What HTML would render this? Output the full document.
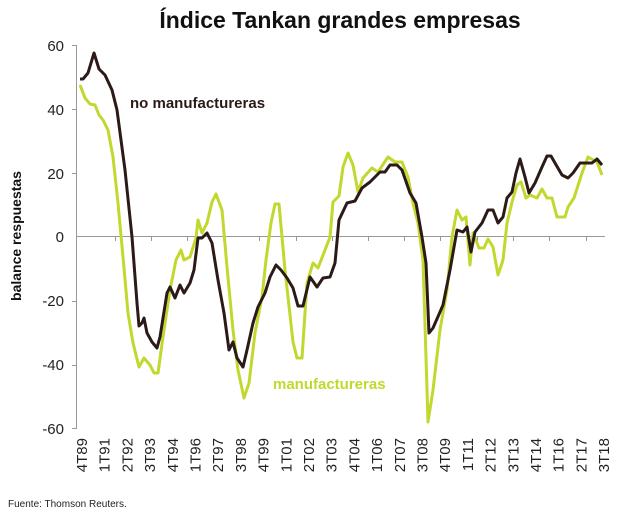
<!DOCTYPE html>
<html><head><meta charset="utf-8"><style>
body{margin:0;background:#fff;}
svg{display:block;font-family:"Liberation Sans","DejaVu Sans",sans-serif;}
</style></head><body>
<svg width="638" height="523" viewBox="0 0 638 523">
<text x="340" y="28" text-anchor="middle" font-size="23" font-weight="bold" fill="#111">Índice Tankan grandes empresas</text>
<text transform="translate(21,236) rotate(-90)" text-anchor="middle" font-size="14" font-weight="bold" fill="#111">balance respuestas</text>
<g stroke="#999" stroke-width="1" fill="none">
<line x1="76.5" y1="45" x2="76.5" y2="428"/>
<line x1="72" y1="45.5" x2="77" y2="45.5"/>
<line x1="72" y1="109.5" x2="77" y2="109.5"/>
<line x1="72" y1="173.5" x2="77" y2="173.5"/>
<line x1="72" y1="301.5" x2="77" y2="301.5"/>
<line x1="72" y1="365.5" x2="77" y2="365.5"/>
<line x1="72" y1="428.5" x2="77" y2="428.5"/>
<line x1="76" y1="236.5" x2="605" y2="236.5"/>
<path d="M115.5 236v5M151.5 236v5M187.5 236v5M223.5 236v5M259.5 236v5M296.5 236v5M332.5 236v5M368.5 236v5M404.5 236v5M440.5 236v5M477.5 236v5M513.5 236v5M549.5 236v5M586.5 236v5"/>
</g>
<g font-size="15" fill="#222" text-anchor="end">
<text x="64" y="51">60</text><text x="64" y="115">40</text><text x="64" y="179">20</text>
<text x="64" y="242">0</text><text x="64" y="306">-20</text><text x="64" y="370">-40</text><text x="64" y="434">-60</text>
</g>
<g font-size="15" fill="#222" text-anchor="end">
<text transform="translate(87,438) rotate(-90)">4T89</text>
<text transform="translate(109.7,438) rotate(-90)">1T91</text>
<text transform="translate(132.4,438) rotate(-90)">2T92</text>
<text transform="translate(155.1,438) rotate(-90)">3T93</text>
<text transform="translate(177.8,438) rotate(-90)">4T94</text>
<text transform="translate(200.5,438) rotate(-90)">1T96</text>
<text transform="translate(223.2,438) rotate(-90)">2T97</text>
<text transform="translate(245.9,438) rotate(-90)">3T98</text>
<text transform="translate(268.6,438) rotate(-90)">4T99</text>
<text transform="translate(291.3,438) rotate(-90)">1T01</text>
<text transform="translate(314,438) rotate(-90)">2T02</text>
<text transform="translate(336.7,438) rotate(-90)">3T03</text>
<text transform="translate(359.4,438) rotate(-90)">4T04</text>
<text transform="translate(382.1,438) rotate(-90)">1T06</text>
<text transform="translate(404.8,438) rotate(-90)">2T07</text>
<text transform="translate(427.5,438) rotate(-90)">3T08</text>
<text transform="translate(450.2,438) rotate(-90)">4T09</text>
<text transform="translate(472.9,438) rotate(-90)">1T11</text>
<text transform="translate(495.6,438) rotate(-90)">2T12</text>
<text transform="translate(518.3,438) rotate(-90)">3T13</text>
<text transform="translate(541,438) rotate(-90)">4T14</text>
<text transform="translate(563.7,438) rotate(-90)">1T16</text>
<text transform="translate(586.4,438) rotate(-90)">2T17</text>
<text transform="translate(609.1,438) rotate(-90)">3T18</text>
</g>
<polyline fill="none" stroke="#c2d82e" stroke-width="3" stroke-linejoin="round" points="80,85 85,98 90,104 95,105 99,115 103,120 108,130 113,157 118,203 123,257 128,313 133,343 139,367 144,358 150,365 154,373 158,373 163,337 170,290 176,260 181,250 184,260 190,257 196,238 198,220 202,233 207,223 212,202 216,194 222,210 227,267 233,330 238,370 244,398 249,383 255,333 262,297 266,260 271,223 275,204 279,204 285,270 293,342 297,358 302,358 307,283 313,263 318,268 325,250 330,237 333,202 339,196 343,167 348,153 353,165 358,192 363,178 372,168 378,172 388,157 395,162 402,162 408,177 413,203 418,223 423,260 428,422 433,390 440,330 447,290 452,237 457,210 462,220 466,217 470,265 473,233 479,248 484,248 488,239 493,247 498,275 503,260 507,223 512,202 517,185 521,182 526,198 530,195 537,198 542,189 547,198 552,198 557,217 565,217 568,207 574,198 582,173 588,157 597,162 602,175"/>
<polyline fill="none" stroke="#2b1a17" stroke-width="3" stroke-linejoin="round" points="80,79 83,79 88,73 94,53 99,69 105,75 112,90 117,110 125,170 132,237 137,303 139,326 142,323 144,318 147,333 152,342 157,348 160,337 167,293 170,287 175,298 180,285 184,293 190,283 194,270 198,238 202,238 207,233 212,243 218,280 224,313 229,350 233,342 237,358 243,367 247,350 253,323 258,307 265,293 270,277 276,265 281,270 287,278 293,288 298,306 303,306 310,277 317,287 323,278 330,277 335,263 339,220 347,203 355,201 362,188 370,182 380,172 385,172 390,165 397,165 402,170 410,193 416,203 422,237 426,263 429,333 433,328 440,312 443,305 450,270 457,230 463,232 467,227 471,252 475,232 482,223 488,210 493,210 498,223 503,217 507,198 512,192 516,173 520,159 525,177 529,193 535,183 542,167 547,156 551,156 555,163 562,175 568,178 573,173 580,163 592,163 597,159 602,165"/>
<text x="130" y="108" font-size="15" font-weight="bold" fill="#2b1a17">no manufactureras</text>
<text x="273" y="389" font-size="15" font-weight="bold" fill="#c2d82e">manufactureras</text>
<text x="8" y="507" font-size="10" fill="#222">Fuente: Thomson Reuters.</text>
</svg>
</body></html>
